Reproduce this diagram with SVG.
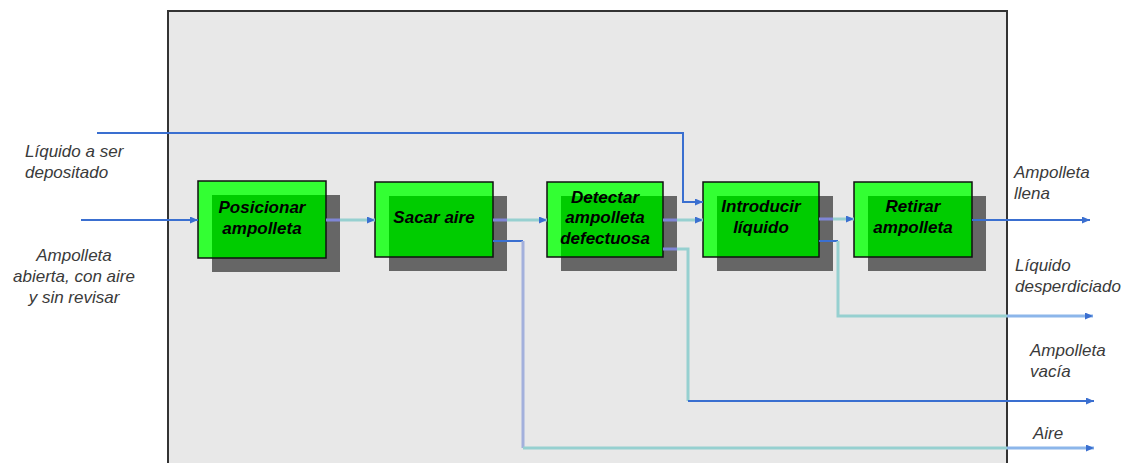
<svg xmlns="http://www.w3.org/2000/svg" width="1128" height="463" viewBox="0 0 1128 463">
  <defs>
    <style>
      .lbl{font-family:"Liberation Sans",Arial,sans-serif;font-style:italic;font-size:17px;fill:#3a3a3a}
      .ttl{font-family:"Liberation Sans",Arial,sans-serif;font-style:italic;font-weight:bold;font-size:17px;fill:#000;text-anchor:middle}
      .shadow{fill:#666666}
      .box{fill:#33ff33}
      .core{fill:#00cc00}
      .edge{fill:none;stroke:#111;stroke-width:1.5}
      .blue{stroke:#3a6fd0;stroke-width:2;fill:none}
      .teal{stroke:#96d0d0;stroke-width:3;fill:none}
      .violet{stroke:#7f86d6;stroke-width:3;fill:none}
      .lav{stroke:#a3b0dc;stroke-width:3;fill:none}
      .sky{stroke:#8cb6ea;stroke-width:3;fill:none}
    </style>
    <marker id="arrow" viewBox="0 0 8 7" refX="8" refY="3.5" markerWidth="8" markerHeight="7" markerUnits="userSpaceOnUse" orient="auto">
      <path d="M0,0 L8,3.5 L0,7 z" fill="#3a6fd0"/>
    </marker>
  </defs>

  <rect x="0" y="0" width="1128" height="463" fill="#ffffff"/>
  <!-- process boundary -->
  <rect x="168" y="11" width="839" height="470" fill="#e8e8e8" stroke="#333333" stroke-width="2"/>

  <!-- process steps -->
  <g id="posicionar">
    <rect class="shadow" x="212" y="195" width="128" height="77"/>
    <rect class="box" x="198" y="181" width="128" height="77"/>
    <rect class="core" x="212" y="195" width="114" height="63"/>
    <rect class="edge" x="198" y="181" width="128" height="77"/>
    <text class="ttl" x="262" y="213">Posicionar</text>
    <text class="ttl" x="262" y="234">ampolleta</text>
  </g>
  <g id="sacar-aire">
    <rect class="shadow" x="389" y="196" width="118" height="75"/>
    <rect class="box" x="375" y="182" width="118" height="75"/>
    <rect class="core" x="389" y="196" width="104" height="61"/>
    <rect class="edge" x="375" y="182" width="118" height="75"/>
    <text class="ttl" x="434" y="223">Sacar aire</text>
  </g>
  <g id="detectar">
    <rect class="shadow" x="561" y="196" width="116" height="75"/>
    <rect class="box" x="547" y="182" width="116" height="75"/>
    <rect class="core" x="561" y="196" width="102" height="61"/>
    <rect class="edge" x="547" y="182" width="116" height="75"/>
    <text class="ttl" x="605" y="203">Detectar</text>
    <text class="ttl" x="605" y="223">ampolleta</text>
    <text class="ttl" x="605" y="244">defectuosa</text>
  </g>
  <g id="introducir">
    <rect class="shadow" x="717" y="196" width="116" height="75"/>
    <rect class="box" x="703" y="182" width="116" height="75"/>
    <rect class="core" x="717" y="196" width="102" height="61"/>
    <rect class="edge" x="703" y="182" width="116" height="75"/>
    <text class="ttl" x="761" y="212">Introducir</text>
    <text class="ttl" x="761" y="233">líquido</text>
  </g>
  <g id="retirar">
    <rect class="shadow" x="868" y="196" width="118" height="75"/>
    <rect class="box" x="854" y="182" width="118" height="75"/>
    <rect class="core" x="868" y="196" width="104" height="61"/>
    <rect class="edge" x="854" y="182" width="118" height="75"/>
    <text class="ttl" x="913" y="212">Retirar</text>
    <text class="ttl" x="913" y="233">ampolleta</text>
  </g>

  <!-- flows -->
  <g id="connectors">
    <line class="blue" x1="81" y1="220" x2="198" y2="220" marker-end="url(#arrow)"/>
    <polyline class="blue" points="97,133 683,133 683,202 703,202" marker-end="url(#arrow)"/>

    <line class="violet" x1="326" y1="220" x2="340" y2="220"/>
    <line class="teal" x1="340" y1="220" x2="375" y2="220" marker-end="url(#arrow)"/>
    <line class="violet" x1="493" y1="220" x2="507" y2="220"/>
    <line class="teal" x1="507" y1="220" x2="547" y2="220" marker-end="url(#arrow)"/>
    <line class="violet" x1="663" y1="220" x2="677" y2="220"/>
    <line class="teal" x1="677" y1="220" x2="703" y2="220" marker-end="url(#arrow)"/>
    <line class="violet" x1="819" y1="219" x2="833" y2="219"/>
    <line class="teal" x1="833" y1="219" x2="854" y2="219" marker-end="url(#arrow)"/>

    <line class="blue" x1="972" y1="220" x2="1090" y2="220" marker-end="url(#arrow)"/>

    <!-- liquid wasted -->
    <line class="blue" x1="819" y1="241" x2="838" y2="241"/>
    <polyline class="teal" points="838,241 838,316 1007,316"/>
    <line class="sky" x1="1007" y1="316" x2="1093" y2="316" marker-end="url(#arrow)"/>

    <!-- empty ampoule -->
    <line class="violet" x1="663" y1="249" x2="677" y2="249"/>
    <polyline class="teal" points="677,249 688,249 688,401"/>
    <polyline class="blue" points="688,401 1094,401" marker-end="url(#arrow)"/>

    <!-- air -->
    <line class="blue" x1="493" y1="241" x2="523" y2="241"/>
    <line class="lav" x1="523" y1="241" x2="523" y2="448"/>
    <line class="teal" x1="523" y1="448" x2="1007" y2="448"/>
    <line class="sky" x1="1007" y1="448" x2="1094" y2="448" marker-end="url(#arrow)"/>
  </g>

  <!-- flow labels -->
  <g id="labels">
    <text class="lbl" x="25" y="157">Líquido a ser</text>
    <text class="lbl" x="25" y="178">depositado</text>
    <text class="lbl" x="74" y="261" text-anchor="middle">Ampolleta</text>
    <text class="lbl" x="74" y="282" text-anchor="middle">abierta, con aire</text>
    <text class="lbl" x="74" y="303" text-anchor="middle">y sin revisar</text>
    <text class="lbl" x="1014" y="178">Ampolleta</text>
    <text class="lbl" x="1014" y="199">llena</text>
    <text class="lbl" x="1015" y="271">Líquido</text>
    <text class="lbl" x="1015" y="292">desperdiciado</text>
    <text class="lbl" x="1030" y="356">Ampolleta</text>
    <text class="lbl" x="1030" y="377">vacía</text>
    <text class="lbl" x="1033" y="439">Aire</text>
  </g>
</svg>
